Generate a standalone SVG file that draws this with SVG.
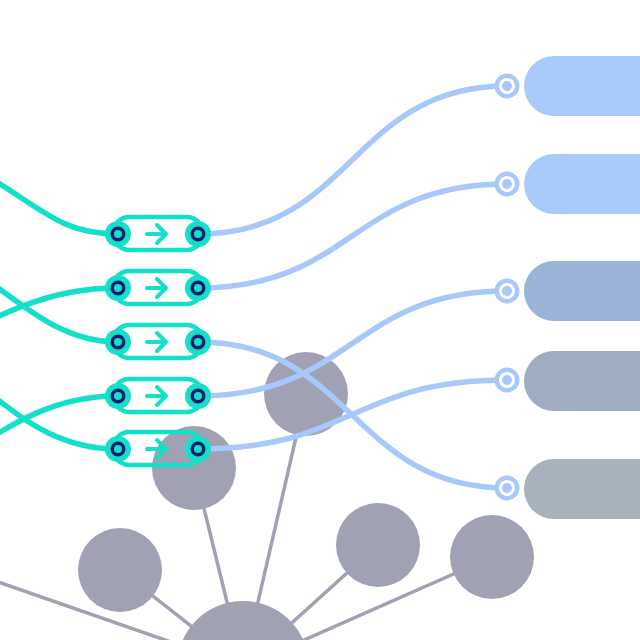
<svg xmlns="http://www.w3.org/2000/svg" width="640" height="640" viewBox="0 0 640 640">
<style>
.edge{stroke:#a0a1b3;stroke-width:3.5;fill:none}
.hub{fill:#a0a1b3}
.blue{stroke:#a6c8fa;stroke-width:5.5;fill:none}
.teal{stroke:#12e0c8;stroke-width:5.5;fill:none}
.pill{stroke:#12e0c8;stroke-width:4.5;fill:none}
.arrow{stroke:#12e0c8;stroke-width:4;fill:none;stroke-linecap:round;stroke-linejoin:round}
.port{fill:#12e0c8}
.ring{fill:#12e0c8;stroke:#0c1c70;stroke-width:3.5}
.endo{fill:#a6c8fa}
.endw{fill:#ffffff}
</style>
<defs>
<g id="conn">
<rect class="pill" x="113" y="-17" width="90" height="33" rx="16.5"/>
<path class="arrow" d="M147 0 H166 M157 -9 L166 0 L157 9"/>
<circle class="port" cx="118" cy="0" r="13"/>
<circle class="ring" cx="118" cy="0" r="5.75"/>
<circle class="port" cx="198" cy="0" r="13"/>
<circle class="ring" cx="198" cy="0" r="5.75"/>
</g>
<g id="endpt">
<circle class="endo" r="12.5"/>
<circle class="endw" r="8"/>
<circle class="endo" r="5"/>
</g>
</defs>
<rect width="640" height="640" fill="#ffffff"/>
<g id="edges">
<line class="edge" x1="243" y1="667" x2="194" y2="468"/>
<line class="edge" x1="243" y1="667" x2="306" y2="394"/>
<line class="edge" x1="243" y1="667" x2="120" y2="570"/>
<line class="edge" x1="243" y1="667" x2="378" y2="545"/>
<line class="edge" x1="243" y1="667" x2="492" y2="557"/>
<line class="edge" x1="243" y1="667" x2="-100" y2="548"/>
</g>
<g id="hub-a"><circle class="hub" cx="306" cy="394" r="42"/></g>
<g id="hub-b"><circle class="hub" cx="194" cy="468" r="42"/></g>
<g id="hub-c"><circle class="hub" cx="120" cy="570" r="42"/></g>
<g id="hub-d"><circle class="hub" cx="378" cy="545" r="42"/></g>
<g id="hub-e"><circle class="hub" cx="492" cy="557" r="42"/></g>
<g id="hub-center"><circle class="hub" cx="243" cy="667" r="66"/></g>
<g id="target-1"><rect x="524" y="56" width="160" height="60" rx="30" fill="#a9cbfb"/></g>
<g id="target-2"><rect x="524" y="154" width="160" height="60" rx="30" fill="#a9cbfb"/></g>
<g id="target-3"><rect x="524" y="261" width="160" height="60" rx="30" fill="#9bb3d8"/></g>
<g id="target-4"><rect x="524" y="351" width="160" height="60" rx="30" fill="#a0adc0"/></g>
<g id="target-5"><rect x="524" y="459" width="160" height="60" rx="30" fill="#a8b2bd"/></g>
<g id="connectors">
<path class="blue" d="M198 234 C352 234 352 86 507 86"/>
<path class="blue" d="M198 288 C352 288 352 184 507 184"/>
<path class="blue" d="M198 342 C352 342 352 488 507 488"/>
<path class="blue" d="M198 396 C352 396 352 291 507 291"/>
<path class="blue" d="M198 449 C352 449 352 380 507 380"/>
<path class="teal" d="M-60 150 C40 200 50 234 118 234"/>
<path class="teal" d="M-60 345 C10 310 50 288 118 288"/>
<path class="teal" d="M-50 255 C10 290 50 342 118 342"/>
<path class="teal" d="M-60 470 C10 425 50 396 118 396"/>
<path class="teal" d="M-40 372 C10 405 45 449 118 449"/>
</g>
<g id="end-1"><use href="#endpt" x="507" y="86"/></g>
<g id="end-2"><use href="#endpt" x="507" y="184"/></g>
<g id="end-3"><use href="#endpt" x="507" y="291"/></g>
<g id="end-4"><use href="#endpt" x="507" y="380"/></g>
<g id="end-5"><use href="#endpt" x="507" y="488"/></g>
<g id="conn-1"><use href="#conn" y="234"/></g>
<g id="conn-2"><use href="#conn" y="288"/></g>
<g id="conn-3"><use href="#conn" y="342"/></g>
<g id="conn-4"><use href="#conn" y="396"/></g>
<g id="conn-5"><use href="#conn" y="449"/></g>
</svg>
